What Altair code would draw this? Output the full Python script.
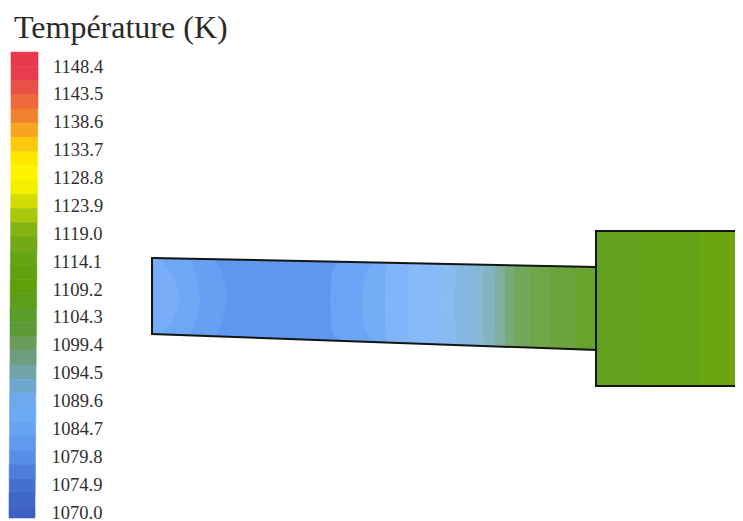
import altair as alt
import pandas as pd

TITLE = "Température (K)"
tick_temps = [1148.4, 1143.5, 1138.6, 1133.7, 1128.8, 1123.9, 1119.0, 1114.1, 1109.2,
              1104.3, 1099.4, 1094.5, 1089.6, 1084.7, 1079.8, 1074.9, 1070.0]
tick_x = [53, 53, 53, 53, 53, 53, 53, 52.5, 52.5, 52.5, 52, 52, 52, 52, 51.5, 51.5, 51.5]

band_low = [1148.7, 1146.2, 1143.7, 1141.2, 1138.7, 1136.2, 1133.7, 1131.2, 1128.7, 1126.2, 1123.7,
            1121.2, 1118.7, 1116.2, 1113.7, 1111.2, 1108.7, 1106.2, 1103.7, 1101.2, 1098.7,
            1096.2, 1093.7, 1091.2, 1088.7, 1086.2, 1083.7, 1081.2, 1078.7, 1076.2, 1073.7, 1071.2, 1069.3]
band_high = [1151.2] + band_low[:-1]
band_colors = ["#e8384e", "#e83c4c", "#ea5046", "#ee6a3a", "#f2832e", "#f8a41e", "#fcc80c", "#fee800",
               "#fff400", "#f4ee00", "#d4dc06", "#a8c80e", "#84b414", "#72aa16", "#66a414", "#60a00e",
               "#5fa00a", "#5c9e18", "#5a9c28", "#5c9a38", "#689c58", "#6e9e80", "#70a4a8", "#6ea8cc",
               "#6ea8ec", "#6caaf4", "#66a4f4", "#609aee", "#5590e6", "#4c7edc", "#4470d2", "#4066c8", "#3e60c0"]
bar_x0 = [11, 11, 11, 11, 11, 11, 11, 10.8, 10.8, 10.8, 10.8, 10.6, 10.6, 10.6, 10.4, 10.4, 10.2,
          10.2, 10, 10, 10, 10, 9.8, 9.8, 9.6, 9.6, 9.6, 9.4, 9.4, 9.2, 9.2, 9, 9]
bar_x1 = [38, 38, 38, 38, 37.8, 37.8, 37.6, 37.6, 37.4, 37.4, 37.2, 37.2, 37, 37, 36.8, 36.8, 36.6,
          36.6, 36.4, 36.4, 36.2, 36.2, 36, 36, 35.8, 35.8, 35.6, 35.6, 35.4, 35.4, 35.2, 35, 35]

# tube outline
tube_x = [152, 596]
tube_top = [258, 267]
tube_bot = [334, 350]

# left-hand contours: (x at axis, x at wall, colour), painted from outermost inwards
left_contours = [(227, 215, "#66a0f2"), (200, 190, "#6ea8f5"), (180, 160, "#78aef8")]
# right-hand contours: (x at axis, x at wall, colour), painted left to right
right_contours = [(330, 340, "#6ba4f4"), (362, 378, "#74acf6"), (385, 387, "#80b6f9"), (408, 410, "#86baf8"),
                  (440, 441, "#88bcf2"), (455, 456, "#86b8e6"), (470, 471, "#86b8d8"), (483, 484, "#84b4c0"),
                  (495, 496, "#80ae9c"), (505, 506, "#78aa78"), (514, 515, "#72a85c"), (530, 531, "#6ea648"),
                  (550, 551, "#6aa43a"), (576, 577, "#66a42e")]
box_x = [596, 640, 700]
box_end = 735
box_colors = ["#62a11c", "#65a318", "#6ba610"]
box_top, box_bot = 231, 386
axis_y = 298


def top_at(x):
    return tube_top[0] + (x - 152) * (tube_top[1] - tube_top[0]) / 444


def bot_at(x):
    return tube_bot[0] + (x - 152) * (tube_bot[1] - tube_bot[0]) / 444


X = alt.Scale(domain=[8, 735], nice=False, zero=False)
Y = alt.Scale(domain=[521, 8], nice=False, zero=False)
T = alt.Scale(domain=[1068.77, 1158.95], nice=False, zero=False)


def region(xs, tops, bots, color):
    df = pd.DataFrame({"x": xs, "t": tops, "b": bots})
    return alt.Chart(df).mark_area(color=color, strokeWidth=0).encode(
        x=alt.X("x:Q", scale=X, axis=None),
        y=alt.Y("t:Q", scale=Y, axis=None),
        y2="b:Q",
    )


layers = [region(tube_x, tube_top, tube_bot, "#5f97ee")]
for mid, wall, col in left_contours:
    d = mid - wall
    xs = [152, wall, wall + d * 0.55, wall + d * 0.85, mid]
    t_w, b_w = top_at(wall), bot_at(wall)
    tops = [top_at(152), t_w, t_w + (axis_y - t_w) * 0.35, t_w + (axis_y - t_w) * 0.68, axis_y]
    bots = [bot_at(152), b_w, b_w + (axis_y - b_w) * 0.35, b_w + (axis_y - b_w) * 0.68, axis_y]
    layers.append(region(xs, tops, bots, col))
for mid, wall, col in right_contours:
    d = wall - mid
    ym = (top_at(mid) + bot_at(mid)) / 2
    t_w, b_w = top_at(wall), bot_at(wall)
    xs = [mid, mid + d * 0.15, mid + d * 0.45, wall, 596]
    tops = [ym, ym + (t_w - ym) * 0.68, ym + (t_w - ym) * 0.9, t_w, tube_top[1]]
    bots = [ym, ym + (b_w - ym) * 0.68, ym + (b_w - ym) * 0.9, b_w, tube_bot[1]]
    layers.append(region(xs, tops, bots, col))

# right-hand block, each strip running to the far edge
for x0, col in zip(box_x, box_colors):
    layers.append(region([x0, box_end], [box_top, box_top], [box_bot, box_bot], col))

# outlines
outlines = [
    ([152, 596], [258, 267]),
    ([152, 596], [334, 350]),
    ([152, 152], [258, 334]),
    ([596, 596], [231, 386]),
    ([596, box_end], [231, 231]),
    ([596, box_end], [386, 386]),
]
for xs, ys in outlines:
    layers.append(
        alt.Chart(pd.DataFrame({"x": xs, "y": ys})).mark_line(color="#141414", strokeWidth=2, strokeCap="square").encode(
            x=alt.X("x:Q", scale=X, axis=None), y=alt.Y("y:Q", scale=Y, axis=None)
        )
    )

# title
layers.append(
    alt.Chart(pd.DataFrame({"x": [14], "y": [38], "s": [TITLE]})).mark_text(
        font="Liberation Serif", fontSize=32, align="left", baseline="alphabetic", color="#2a2a2a"
    ).encode(x=alt.X("x:Q", scale=X, axis=None), y=alt.Y("y:Q", scale=Y, axis=None), text="s:N")
)

main = alt.layer(*layers)

# colour bar and its labels, on a temperature scale
bar_df = pd.DataFrame({"lo": band_low, "hi": band_high, "c": band_colors, "x0": bar_x0, "x1": bar_x1})
bar = alt.Chart(bar_df).mark_rect(strokeWidth=0.6).encode(
    x=alt.X("x0:Q", scale=X, axis=None),
    x2="x1:Q",
    y=alt.Y("lo:Q", scale=T, axis=None),
    y2="hi:Q",
    color=alt.Color("c:N", scale=None, legend=None),
    stroke=alt.Stroke("c:N", scale=None, legend=None),
)
lab_df = pd.DataFrame({"t": tick_temps, "x": tick_x, "s": [f"{v:.1f}" for v in tick_temps]})
labels = alt.Chart(lab_df).mark_text(
    font="Liberation Serif", fontSize=18.5, align="left", baseline="middle", dy=-1.5, color="#2e2e2e"
).encode(x=alt.X("x:Q", scale=X, axis=None), y=alt.Y("t:Q", scale=T, axis=None), text="s:N")
legend = alt.layer(bar, labels)

chart = (
    alt.layer(main, legend)
    .resolve_scale(y="independent")
    .properties(width=727, height=513, padding=0, autosize=alt.AutoSizeParams(type="none"))
    .configure_view(stroke=None)
)
chart.save("out.html", embed_options={"renderer": "svg", "actions": False})
